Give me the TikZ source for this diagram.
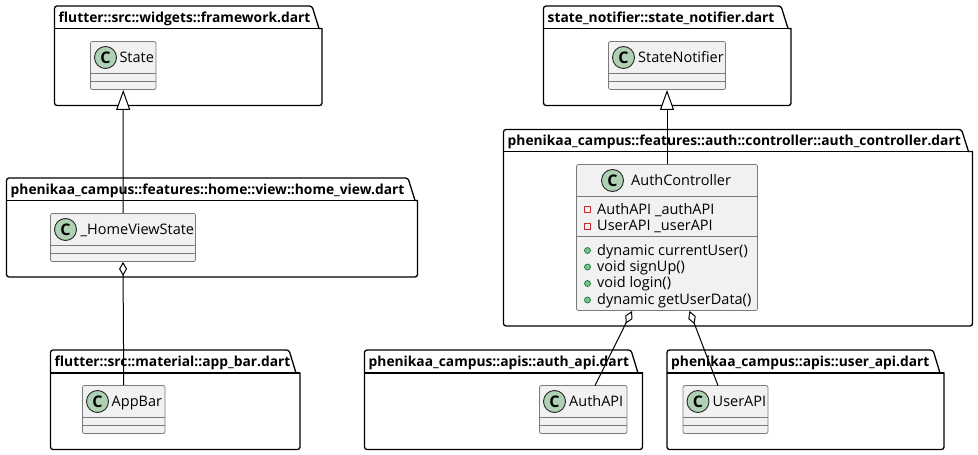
\documentclass[tikz,border=0pt]{standalone}
\usepackage{fontspec}
\setmainfont{Open Sans}
\usetikzlibrary{arrows.meta}
\definecolor{classfill}{HTML}{F1F1F1}
\definecolor{classline}{HTML}{7A7A7A}
\definecolor{spot}{HTML}{ADD1B2}
\definecolor{privred}{HTML}{C82930}
\definecolor{pubgreen}{HTML}{84BE84}
\definecolor{publine}{HTML}{038048}
\tikzset{
  pkgline/.style={draw=black,line width=1.3pt,rounded corners=2.5pt},
  pkgtitle/.style={anchor=base west,inner sep=0pt,font=\fontsize{13.8}{16}\selectfont\bfseries},
  classbox/.style={draw=classline,fill=classfill,line width=0.8pt,rounded corners=2pt,inner sep=0pt},
  sepline/.style={draw=classline,line width=0.8pt},
  classtext/.style={anchor=base west,inner sep=0pt,font=\fontsize{14.5}{16}\selectfont},
  spotc/.style={circle,draw=black!85,fill=spot,line width=0.9pt,minimum size=22pt,inner sep=0pt,font=\fontsize{16}{16}\selectfont\bfseries},
  extends/.style={line width=1pt,-{Triangle[open,fill=white,length=20pt,width=14pt]}},
  aggr/.style={line width=1pt,-{Diamond[open,fill=white,length=14pt,width=8pt]}},
  privm/.style={rectangle,draw=privred,line width=0.8pt,minimum size=6pt,inner sep=0pt},
  pubm/.style={circle,draw=publine,fill=pubgreen,line width=0.7pt,minimum size=6pt,inner sep=0pt},
}
% left, top, tab right, tab bottom, right, bottom
\newcommand{\pkgshape}[6]{\path[pkgline] (#1,#6) -- (#1,#2) -- (#3,#2) [sharp corners] -- (#3+7,#4) -- (#5,#4) [rounded corners=2.5pt] -- (#5,#6) -- cycle;
  \draw[line width=1.3pt] (#1,#4) -- (#5,#4);}
% name, x1, x2, y1, y2
\newcommand{\classshape}[5]{\node[classbox,minimum width=#3pt-#2pt,minimum height=#5pt-#4pt] (#1) at ({(#2+#3)/2},{(#4+#5)/2}) {};}
\begin{document}
\begin{tikzpicture}[x=1pt,y=-1pt]
\useasboundingbox (0,0) rectangle (978,455);
% packages
\pkgshape{54.5}{6}{312}{28.5}{322}{105.5}
\node[pkgtitle] (t1) at (58.5,22) {flutter::src::widgets::framework.dart};
\pkgshape{543.5}{6}{781}{28.5}{791}{105.5}
\node[pkgtitle] (t2) at (547.5,22) {state\_notifier::state\_notifier.dart};
\pkgshape{6.5}{178}{408}{200.5}{417.5}{277}
\node[pkgtitle] (t3) at (10.5,194) {phenikaa\_campus::features::home::view::home\_view.dart};
\pkgshape{503.5}{129.5}{961.5}{151.5}{972.5}{326}
\node[pkgtitle] (t4) at (507.5,145.5) {phenikaa\_campus::features::auth::controller::auth\_controller.dart};
\pkgshape{50.5}{350}{289}{373}{300}{449.5}
\node[pkgtitle] (t5) at (54.5,366) {flutter::src::material::app\_bar.dart};
\pkgshape{364.5}{350}{631}{373}{642.5}{449.5}
\node[pkgtitle] (t6) at (368.5,366) {phenikaa\_campus::apis::auth\_api.dart};
\pkgshape{667}{350}{933}{373}{944}{449.5}
\node[pkgtitle] (t7) at (671,366) {phenikaa\_campus::apis::user\_api.dart};
% classes
\classshape{state}{90.5}{156}{41.5}{89.5}
\draw[sepline] (90.5,73.5) -- (156,73.5) (90.5,81) -- (156,81);
\node[spotc] (s1) at (105.5,57.5) {C};
\node[classtext] (n1) at (119.3,62.5) {State};
\classshape{notifier}{608.5}{725.5}{41.5}{89.5}
\draw[sepline] (608.5,73.5) -- (725.5,73.5) (608.5,81) -- (725.5,81);
\node[spotc] (s2) at (623.5,57.5) {C};
\node[classtext] (n2) at (638,62.5) {StateNotifier};
\classshape{home}{50.5}{195.5}{213.5}{261.5}
\draw[sepline] (50.5,245.5) -- (195.5,245.5) (50.5,253) -- (195.5,253);
\node[spotc] (s3) at (65.5,229.5) {C};
\node[classtext] (n3) at (80.5,234.5) {\_HomeViewState};
\classshape{appbar}{82.5}{165}{385.5}{433.5}
\draw[sepline] (82.5,417.5) -- (165,417.5) (82.5,425) -- (165,425);
\node[spotc] (s4) at (97.5,401.5) {C};
\node[classtext] (n4) at (111.5,406.5) {AppBar};
\classshape{authapi}{539.5}{627}{385.5}{433.5}
\draw[sepline] (539.5,417.5) -- (627,417.5) (539.5,425) -- (627,425);
\node[spotc] (s5) at (554.5,401.5) {C};
\node[classtext] (n5) at (569,406.5) {AuthAPI};
\classshape{userapi}{683}{768}{385.5}{433.5}
\draw[sepline] (683,417.5) -- (768,417.5) (683,425) -- (768,425);
\node[spotc] (s6) at (698,401.5) {C};
\node[classtext] (n6) at (712.5,406.5) {UserAPI};
\classshape{auth}{576.5}{757.5}{164.5}{310.5}
\draw[sepline] (576.5,196.5) -- (757.5,196.5) (576.5,236.5) -- (757.5,236.5);
\node[spotc] (s7) at (612.5,180.5) {C};
\node[classtext] (n7) at (631,185.5) {AuthController};
\node[privm] (v1) at (587.5,209.5) {};
\node[classtext] (m1) at (597,214) {AuthAPI \_authAPI};
\node[privm] (v2) at (587.5,226) {};
\node[classtext] (m2) at (597,230.5) {UserAPI \_userAPI};
\node[pubm] (v3) at (587.5,250.5) {};
\node[classtext] (m3) at (597,255) {dynamic currentUser()};
\node[pubm] (v4) at (587.5,267) {};
\node[classtext] (m4) at (597,271) {void signUp()};
\node[pubm] (v5) at (587.5,283.5) {};
\node[classtext] (m5) at (597,287.5) {void login()};
\node[pubm] (v6) at (587.5,300) {};
\node[classtext] (m6) at (597,304) {dynamic getUserData()};
% connectors
\draw[extends] (home.north) -- (state.south);
\draw[extends] (auth.north) -- (notifier.south);
\draw[aggr] (appbar.north) -- (home.south);
\coordinate (authapitop) at (595,385.5);
\coordinate (authbotl) at (632,311);
\coordinate (userapitop) at (718,385.5);
\coordinate (authbotr) at (689.5,311);
\draw[aggr] (authapitop) -- (authbotl);
\draw[aggr] (userapitop) -- (authbotr);
\end{tikzpicture}
\end{document}
